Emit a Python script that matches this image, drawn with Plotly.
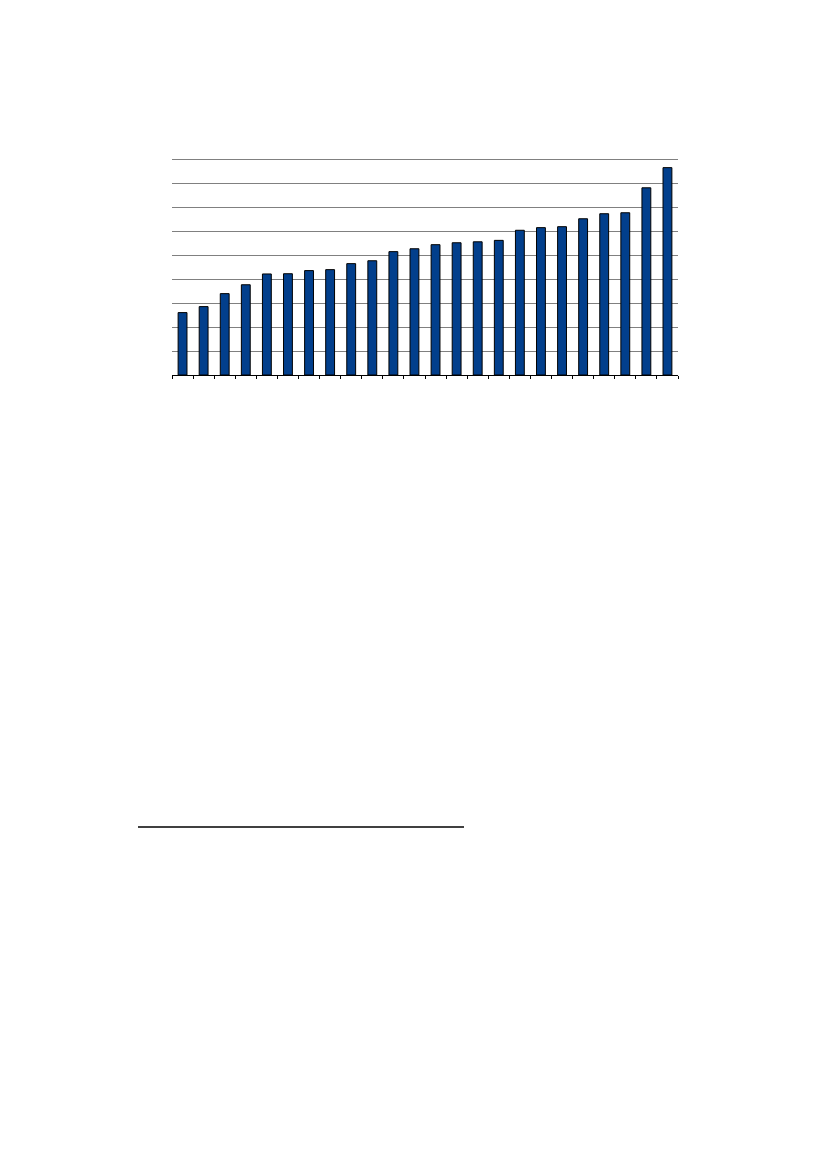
import plotly.graph_objects as go

# 24 unlabelled categories, sorted ascending; units = one gridline step
categories = [f"c{i}" for i in range(1, 25)]
values = [2.60, 2.85, 3.39, 3.76, 4.21, 4.22, 4.35, 4.39, 4.64, 4.76, 5.14, 5.26,
          5.43, 5.51, 5.55, 5.61, 6.03, 6.14, 6.18, 6.51, 6.72, 6.76, 7.80, 8.64]
y_max = 9.25  # a little headroom so the top gridline (9) is drawn

OFF = 8  # page body margin of the browser
W, H = 826 - 2 * OFF, 1169 - 2 * OFF
STEP = 24  # pixels per gridline step
L, R, B = 172 - OFF, 678 - OFF, 375 - OFF
T = B - round(y_max * STEP)

fig = go.Figure(go.Bar(
    x=categories, y=values,
    marker=dict(color="#023F8C", line=dict(color="black", width=1)),
    hoverinfo="skip",
))

fig.update_layout(
    width=W, height=H,
    margin=dict(l=L, r=W - R, t=T, b=H - B, pad=0),
    plot_bgcolor="white", paper_bgcolor="white",
    bargap=0.58,
    showlegend=False,
)
fig.update_xaxes(
    showticklabels=False, showgrid=False,
    showline=True, linecolor="black", linewidth=1,
    ticks="outside", tickson="boundaries", ticklen=3, tickcolor="black", tickwidth=1,
)
fig.update_yaxes(
    range=[0, y_max], dtick=1, showticklabels=False,
    showgrid=True, gridcolor="#808080", gridwidth=1,
    zeroline=False, showline=False, ticks="",
)

# footnote separator line below the chart
fy = (B - (827 - OFF)) / (B - T)
fig.add_shape(
    type="line", xref="paper", yref="paper",
    x0=(138 - OFF - L) / (R - L), x1=(464 - OFF - L) / (R - L),
    y0=fy, y1=fy,
    line=dict(color="black", width=1.5),
)

fig.write_html("out.html")
